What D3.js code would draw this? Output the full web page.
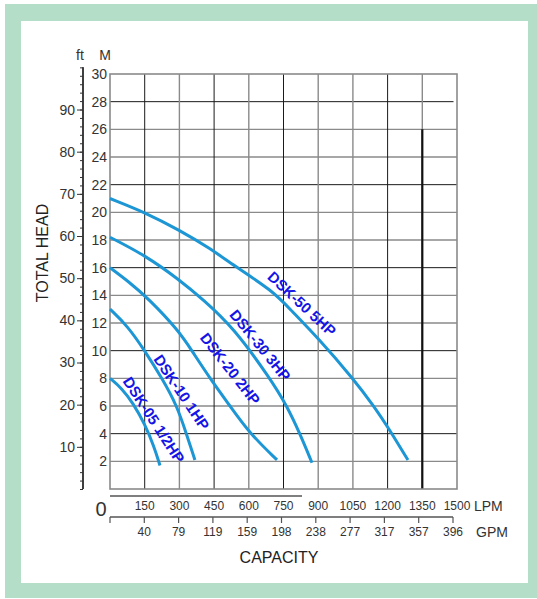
<!DOCTYPE html>
<html>
<head>
<meta charset="utf-8">
<script src="https://cdn.jsdelivr.net/npm/d3@7"></script>
<style>
  body { margin: 0; background: #fff; }
  text { font-family: 'Liberation Sans', Arial, sans-serif; }
</style>
</head>
<body>
<script>
// chart data
const lpmTicks = [150, 300, 450, 600, 750, 900, 1050, 1200, 1350, 1500];
const gpmLabels = [40, 79, 119, 159, 198, 238, 277, 317, 357, 396];
const meterTicks = [2, 4, 6, 8, 10, 12, 14, 16, 18, 20, 22, 24, 26, 28, 30];
const feetTicks = [10, 20, 30, 40, 50, 60, 70, 80, 90];
const models = ['DSK-05 1/2HP', 'DSK-10 1HP', 'DSK-20 2HP', 'DSK-30 3HP', 'DSK-50 5HP'];
// [LPM, head m]
const dsk05 = [[0, 8], [50, 7.3], [100, 6.2], [150, 4.7], [190, 3.1], [216, 1.7]];
const dsk10 = [[0, 13], [75, 11.8], [150, 10], [225, 8], [290, 6], [330, 4], [367, 2.1]];
const dsk20 = [[0, 16], [80, 15], [164, 13.8], [294, 11.5], [354, 10], [432, 8], [519, 6], [605, 4], [722, 2.1]];
const dsk30 = [[0, 18.2], [151, 16.9], [302, 15.1], [402, 13.7], [532, 11.7], [692, 8], [765, 6], [821, 4], [873, 1.9]];
const dsk50 = [[0, 21], [151, 20], [302, 18.7], [432, 17.4], [532, 16.2], [705, 14.3], [778, 13], [900, 10.9], [1050, 8], [1145, 5.9], [1200, 4.5], [1288, 2.1]];
const series = [dsk05, dsk10, dsk20, dsk30, dsk50];
// label anchor [LPM, m] and angle
const labelPos = [[190, 5], [310, 7], [520, 8.7], [650, 10.4], [830, 13.4]];
const labelAngle = [57, 56, 52, 51, 43];

const W = 537, H = 599;
const svg = d3.select('body').append('svg').attr('width', W).attr('height', H);

// frame
svg.append('rect').attr('x', 5).attr('y', 4).attr('width', 532).attr('height', 594).attr('fill', '#b4dec8');
svg.append('rect').attr('x', 21).attr('y', 21).attr('width', 507).attr('height', 562).attr('fill', '#fff');

const x = d3.scaleLinear().domain([0, 1500]).range([110, 457]);
const xG = d3.scaleLinear().domain([0, 1500]).range([110, 453]);
const y = d3.scaleLinear().domain([0, 30]).range([489, 74]);
const yFt = d3.scaleLinear().domain([0, 30 * 3.2808]).range([489, 74]);

const dark = '#1a1a1a', grey = '#8a8a8a';

// horizontal grid
const darkH = [4, 10, 16, 22, 28];
svg.selectAll('.hgrid').data(meterTicks.filter(d => d < 30)).enter().append('line')
  .attr('x1', x(0)).attr('x2', d => d == 28 ? x(1485) : x(1500))
  .attr('y1', d => y(d)).attr('y2', d => y(d))
  .attr('stroke', d => darkH.includes(d) ? dark : grey)
  .attr('stroke-width', d => darkH.includes(d) ? 1 : 1.4);

// vertical grid
const darkV = [150, 450, 750, 1200];
svg.selectAll('.vgrid').data(lpmTicks.filter(d => d < 1500)).enter().append('line')
  .attr('x1', d => x(d)).attr('x2', d => x(d))
  .attr('y1', y(30)).attr('y2', y(0))
  .attr('stroke', d => darkV.includes(d) ? dark : grey)
  .attr('stroke-width', d => darkV.includes(d) ? 1 : 1.4);
// heavy line at 1350
svg.append('line').attr('x1', x(1350)).attr('x2', x(1350)).attr('y1', y(26)).attr('y2', y(0))
  .attr('stroke', '#111').attr('stroke-width', 2.2);

// border
svg.append('rect').attr('x', x(0)).attr('y', y(30)).attr('width', x(1500) - x(0)).attr('height', y(0) - y(30))
  .attr('fill', 'none').attr('stroke', grey).attr('stroke-width', 1.6);

// curves
const line = d3.line().x(d => x(d[0])).y(d => y(d[1])).curve(d3.curveBasis);
svg.selectAll('.curve').data(series).enter().append('path')
  .attr('d', line).attr('fill', 'none').attr('stroke', '#1c96d4').attr('stroke-width', 3);

// curve labels
svg.selectAll('.lbl').data(models).enter().append('text')
  .attr('transform', (d, i) => `translate(${x(labelPos[i][0])},${y(labelPos[i][1])}) rotate(${labelAngle[i]})`)
  .attr('text-anchor', 'middle').attr('dominant-baseline', 'central')
  .attr('font-size', 15).attr('font-weight', 'bold').attr('fill', '#1414e6')
  .text(d => d);

// meter labels
svg.selectAll('.mlab').data(meterTicks).enter().append('text')
  .attr('x', 107).attr('y', d => y(d)).attr('dy', '0.35em')
  .attr('text-anchor', 'end').attr('font-size', 14).attr('fill', '#333')
  .text(d => d);
svg.append('text').attr('x', 105).attr('y', 60).attr('text-anchor', 'middle')
  .attr('font-size', 14).attr('fill', '#333').text('M');

// feet axis
const ftMinor = svg.append('g').attr('transform', 'translate(83,0)')
  .call(d3.axisLeft(yFt).tickValues(d3.range(0, 101, 2)).tickSize(3).tickFormat(''));
const ftMajor = svg.append('g').attr('transform', 'translate(83,0)')
  .call(d3.axisLeft(yFt).tickValues(feetTicks).tickSize(6).tickPadding(2));
[ftMinor, ftMajor].forEach(g => {
  g.select('.domain').attr('d', `M0,${yFt(0)}V${yFt(100)}`).attr('stroke', '#333').attr('stroke-width', 1.5);
  g.selectAll('.tick line').attr('stroke', '#333');
});
ftMajor.selectAll('.tick text').attr('font-size', 14).attr('fill', '#333')
  .attr('font-family', "'Liberation Sans', Arial, sans-serif");
svg.append('text').attr('x', 80).attr('y', 60).attr('text-anchor', 'middle')
  .attr('font-size', 14).attr('fill', '#333').text('ft');

svg.append('text').attr('transform', 'translate(48,253) rotate(-90)')
  .attr('text-anchor', 'middle').attr('font-size', 16).attr('fill', '#222').text('TOTAL HEAD');

// LPM axis
svg.append('line').attr('x1', x(0)).attr('x2', x(830)).attr('y1', 496).attr('y2', 496)
  .attr('stroke', '#555').attr('stroke-width', 1.5);
svg.selectAll('.lpm').data(lpmTicks).enter().append('text')
  .attr('x', d => x(d)).attr('y', 510).attr('text-anchor', 'middle')
  .attr('font-size', 12).attr('fill', '#333').text(d => d);
svg.append('text').attr('x', 474).attr('y', 511).attr('font-size', 14).attr('fill', '#333').text('LPM');
svg.append('text').attr('x', 101).attr('y', 516).attr('text-anchor', 'middle')
  .attr('font-size', 20).attr('fill', '#333').text('0');

// GPM axis
svg.append('line').attr('x1', xG(0)).attr('x2', xG(1500)).attr('y1', 517).attr('y2', 517)
  .attr('stroke', '#555').attr('stroke-width', 1.5);
svg.selectAll('.gtick').data([0].concat(lpmTicks)).enter().append('line')
  .attr('x1', d => xG(d)).attr('x2', d => xG(d)).attr('y1', 517).attr('y2', 523)
  .attr('stroke', '#555').attr('stroke-width', 1.2);
svg.selectAll('.gpm').data(gpmLabels).enter().append('text')
  .attr('x', (d, i) => xG(lpmTicks[i])).attr('y', 536).attr('text-anchor', 'middle')
  .attr('font-size', 12).attr('fill', '#333').text(d => d);
svg.append('text').attr('x', 476).attr('y', 537).attr('font-size', 14).attr('fill', '#333').text('GPM');

svg.append('text').attr('x', 279).attr('y', 563).attr('text-anchor', 'middle')
  .attr('font-size', 16).attr('fill', '#222').text('CAPACITY');
</script>
</body>
</html>
